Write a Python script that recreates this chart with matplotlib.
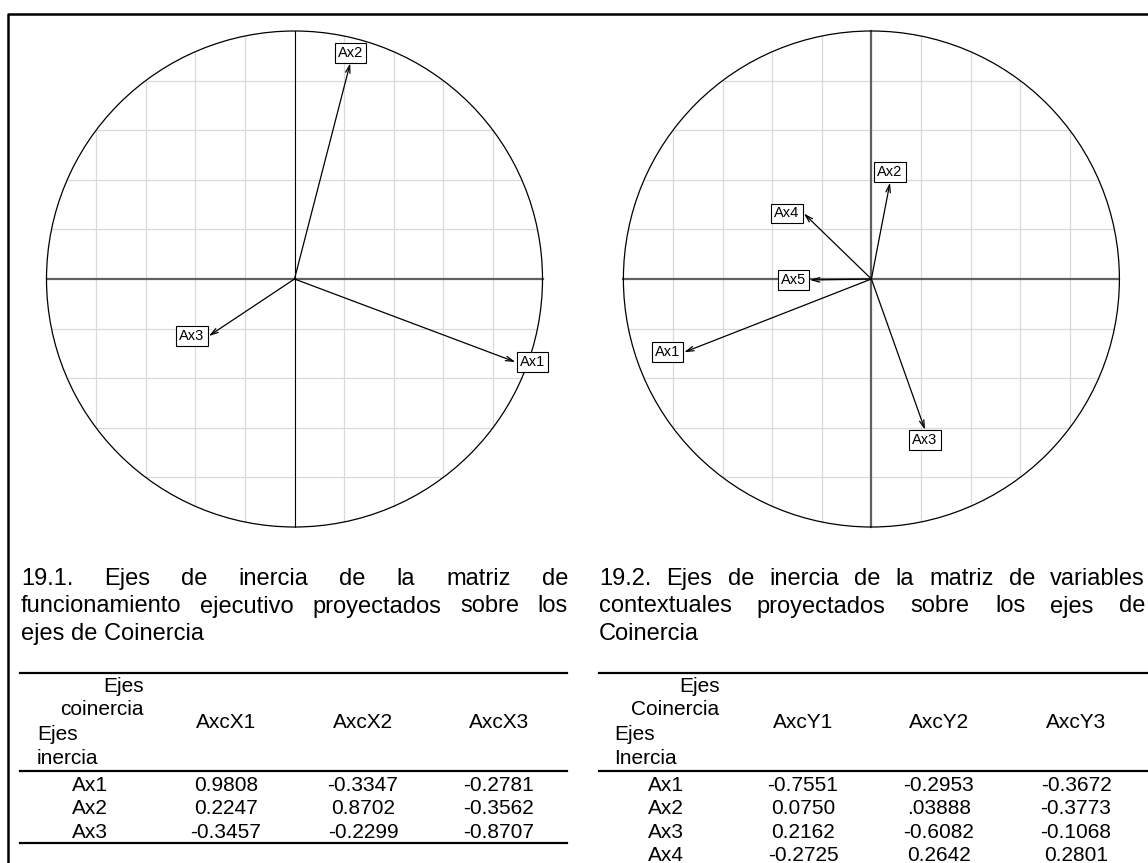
import numpy as np
import matplotlib
matplotlib.use("Agg")
import matplotlib.pyplot as plt
from matplotlib.lines import Line2D
from matplotlib.patches import Circle

plt.rcParams['font.family'] = ['Liberation Sans', 'DejaVu Sans']

W, H = 1148, 863

# projections of the inertia axes on the coinertia plane (first two axes)
labels_x = ['Ax1', 'Ax2', 'Ax3']
coord_x1 = [0.8908, 0.2247, -0.3457]
coord_x2 = [-0.3347, 0.8702, -0.2299]

labels_y = ['Ax1', 'Ax2', 'Ax3', 'Ax4', 'Ax5']
coord_y1 = [-0.7551, 0.0750, 0.2162, -0.2725, -0.2480]
coord_y2 = [-0.2953, 0.3888, -0.6082, 0.2642, -0.0040]

caption_x = ["19.1. Ejes de inercia de la matriz de",
             "funcionamiento ejecutivo proyectados sobre los",
             "ejes de Coinercia"]
caption_y = ["19.2. Ejes de inercia de la matriz de variables",
             "contextuales proyectados sobre los ejes de",
             "Coinercia"]

head_x = ['Ejes', 'coinercia', 'Ejes', 'inercia']
cols_x = ['AxcX1', 'AxcX2', 'AxcX3']
rows_x = ['Ax1', 'Ax2', 'Ax3']
vals_x = [['0.9808', '-0.3347', '-0.2781'],
          ['0.2247', '0.8702', '-0.3562'],
          ['-0.3457', '-0.2299', '-0.8707']]

head_y = ['Ejes', 'Coinercia', 'Ejes', 'Inercia']
cols_y = ['AxcY1', 'AxcY2', 'AxcY3']
rows_y = ['Ax1', 'Ax2', 'Ax3', 'Ax4']
vals_y = [['-0.7551', '-0.2953', '-0.3672'],
          ['0.0750', '.03888', '-0.3773'],
          ['0.2162', '-0.6082', '-0.1068'],
          ['-0.2725', '0.2642', '0.2801']]


def fx(px):
    return px / W


def fy(py):
    return 1 - py / H


def corcircle(fig, cx, cy, r, xs, ys, labels, vline_gray):
    ax = fig.add_axes([fx(cx - r), fy(cy + r), 2 * r / W, 2 * r / H])
    ax.set_xlim(-1, 1)
    ax.set_ylim(-1, 1)
    ax.axis('off')
    # grid clipped to the unit circle
    for g in [-0.8, -0.6, -0.4, -0.2, 0.2, 0.4, 0.6, 0.8]:
        h = np.sqrt(1 - g ** 2)
        ax.plot([g, g], [-h, h], color='#d9d9d9', lw=0.9, zorder=1)
        ax.plot([-h, h], [g, g], color='#d9d9d9', lw=0.9, zorder=1)
    ax.plot([-1, 1], [0, 0], color='#606060', lw=1.6, zorder=2, clip_on=False)
    if vline_gray:
        ax.plot([0, 0], [-1, 1], color='#606060', lw=1.6, zorder=2, clip_on=False)
    else:
        ax.plot([0, 0], [-1, 1], color='black', lw=0.8, zorder=2, clip_on=False)
    ax.add_patch(Circle((0, 0), 1, fill=False, lw=0.9, color='black',
                        zorder=3, clip_on=False))
    for x, y, lab in zip(xs, ys, labels):
        ax.annotate('', xy=(x, y), xytext=(0, 0),
                    arrowprops=dict(arrowstyle='->,head_length=0.55,head_width=0.16',
                                    lw=0.9, color='black', shrinkA=0, shrinkB=0),
                    zorder=4)
        # label put outside the arrow tip, like scatterutil.eti.circ
        if abs(x) > abs(y):
            ha, va = ('left', 'center') if x > 0 else ('right', 'center')
            off = (3 if x > 0 else -3, 0)
        else:
            ha, va = ('center', 'bottom') if y > 0 else ('center', 'top')
            off = (0, 2.5 if y > 0 else -2.5)
        ax.annotate(lab, xy=(x, y), xytext=off, textcoords='offset points',
                    ha=ha, va=va, fontsize=10.5, zorder=5,
                    bbox=dict(boxstyle='square,pad=0.2', fc='white',
                              ec='black', lw=0.8))
    return ax


def justified(fig, renderer, lines, x0, x1, y0, step, size):
    for i, line in enumerate(lines):
        y = fy(y0 + i * step)
        words = line.split()
        if i == len(lines) - 1:
            fig.text(fx(x0), y, line, fontsize=size, va='baseline')
            continue
        texts = [fig.text(0, y, w, fontsize=size, va='baseline') for w in words]
        widths = [t.get_window_extent(renderer).width for t in texts]
        gap = (x1 - x0 - sum(widths)) / (len(words) - 1)
        x = x0
        for t, w in zip(texts, widths):
            t.set_x(fx(x))
            x += w + gap


def hline(fig, x0, x1, y, lw=1.6):
    fig.add_artist(Line2D([fx(x0), fx(x1)], [fy(y), fy(y)], color='black', lw=lw))


def table(fig, x0, x1, head, cols, rows, vals, head_r, head_l, col_x, row_x, size):
    hline(fig, x0, x1, 673)
    fig.text(fx(head_r), fy(692), head[0], fontsize=size, ha='right', va='baseline')
    fig.text(fx(head_r), fy(715), head[1], fontsize=size, ha='right', va='baseline')
    fig.text(fx(head_l), fy(740), head[2], fontsize=size, ha='left', va='baseline')
    fig.text(fx(head_l), fy(764), head[3], fontsize=size, ha='left', va='baseline')
    for c, xc in zip(cols, col_x):
        fig.text(fx(xc), fy(723), c, fontsize=size, ha='center', va='center')
    hline(fig, x0, x1, 771)
    for i, (r, v) in enumerate(zip(rows, vals)):
        yb = 791 + i * 23.3
        fig.text(fx(row_x), fy(yb), r, fontsize=size, ha='center', va='baseline')
        for s, xc in zip(v, col_x):
            fig.text(fx(xc), fy(yb), s, fontsize=size, ha='center', va='baseline')
    if len(rows) == 3:
        hline(fig, x0, x1, 843)


fig = plt.figure(figsize=(W / 100, H / 100), dpi=100)
renderer = fig.canvas.get_renderer()

# outer frame (right and bottom edges fall outside the page)
fig.add_artist(Line2D([fx(7.5), fx(7.5), 1.01], [-0.01, fy(14), fy(14)],
                      color='black', lw=1.8))

corcircle(fig, 294.5, 279, 248, coord_x1, coord_x2, labels_x, False)
corcircle(fig, 871.4, 279, 248, coord_y1, coord_y2, labels_y, True)

justified(fig, renderer, caption_x, 21, 568, 585, 27.5, 17)
justified(fig, renderer, caption_y, 599, 1145, 585, 27.5, 17)

table(fig, 20, 567, head_x, cols_x, rows_x, vals_x, 143.5, 37,
      [226, 363, 499], 90, 15)
table(fig, 599, 1150, head_y, cols_y, rows_y, vals_y, 719.5, 614,
      [803, 939, 1076], 666, 15)

fig.savefig('out.png', dpi=100)
